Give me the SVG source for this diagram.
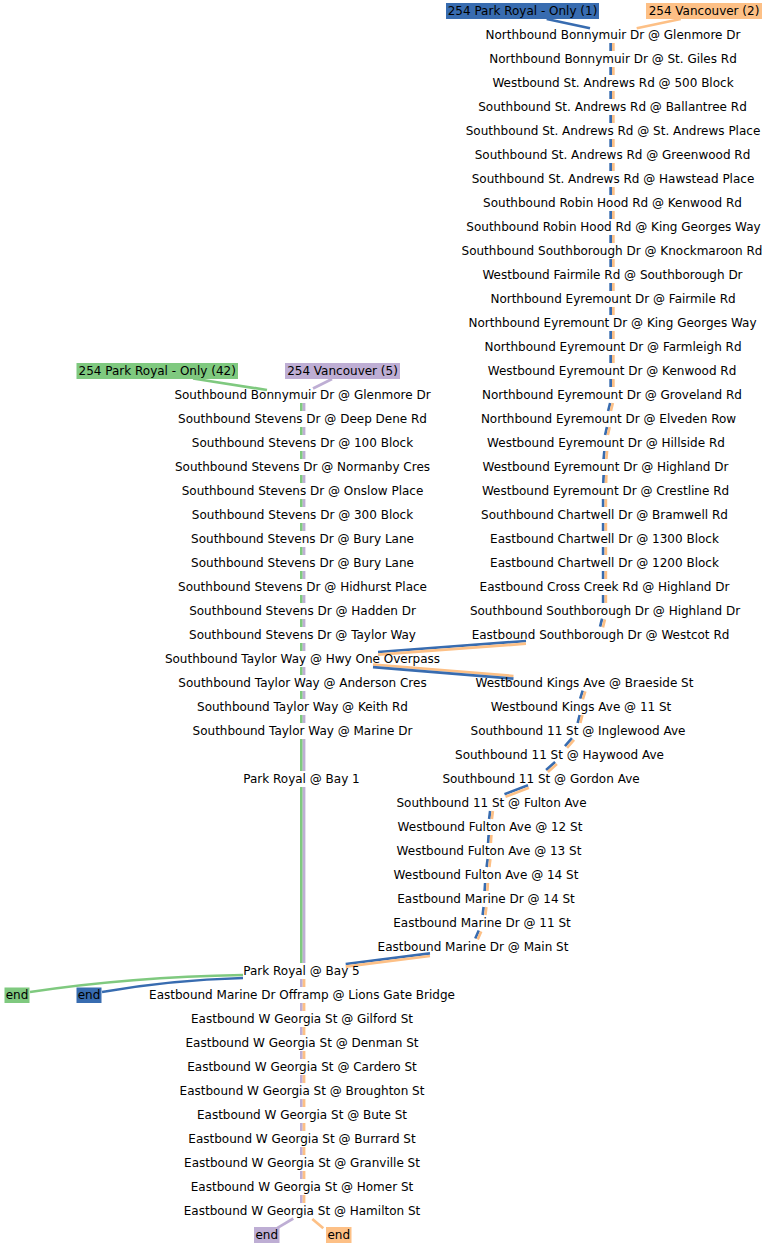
<svg xmlns="http://www.w3.org/2000/svg" width="773" height="1248" viewBox="0 0 773 1248">
<style>
text{font-family:"DejaVu Sans","Liberation Sans",sans-serif;font-size:12px;text-anchor:middle;fill:#000}
.e line,.e path{fill:none;stroke-width:2.7;stroke-linecap:butt}
.b{stroke:#386cb0}.o{stroke:#fdc086}.g{stroke:#7fc97f}.p{stroke:#beaed4}
.fb{fill:#386cb0}.fo{fill:#fdc086}.fg{fill:#7fc97f}.fp{fill:#beaed4}
</style>
<rect width="773" height="1248" fill="#fff"/>
<g id="connectors" class="e">
<!-- right column: blue/orange -->
<path class="b" d="M610.65,43V51M610.65,67V75M610.65,91V99M610.65,115V123M610.65,139V147M610.65,163V171M610.65,187V195M610.65,211V219M610.65,235V243M610.65,259V267M610.65,283V291M610.65,307V315M610.65,331V339M610.65,355V363M610.65,379V387M610.15,403L608.15,411M606.95,427L605.15,435M604.35,451L603.65,459M603.65,475L603.35,483M603.15,499V507M603.15,523V531M603.15,547V555M603.15,571V579M603.15,595V603M602.1,618.6L600.1,626.6"/>
<path class="o" d="M613.35,43V51M613.35,67V75M613.35,91V99M613.35,115V123M613.35,139V147M613.35,163V171M613.35,187V195M613.35,211V219M613.35,235V243M613.35,259V267M613.35,283V291M613.35,307V315M613.35,331V339M613.35,355V363M613.35,379V387M612.85,403L610.85,411M609.65,427L607.85,435M607.05,451L606.35,459M606.35,475L606.05,483M605.85,499V507M605.85,523V531M605.85,547V555M605.85,571V579M605.85,595V603M604.9,619.4L602.9,627.4"/>
<!-- top labels -->
<line class="b" x1="546.7" y1="19" x2="590" y2="28.3"/>
<line class="o" x1="680.7" y1="19" x2="636.7" y2="28.3"/>
<!-- Westcot -> Hwy One -> Braeside -->
<line class="b" x1="526" y1="641" x2="378" y2="652"/>
<line class="o" x1="526" y1="643.7" x2="378" y2="654.7"/>
<line class="o" x1="373" y1="664.5" x2="513.5" y2="676"/>
<line class="b" x1="373" y1="667.2" x2="513.5" y2="678.7"/>
<!-- middle column -->
<path class="b" d="M582.7,690.6L580.2,698.6M579.7,715L577.7,723M571.98,738.11L564.98,746.11M555.1,762L546.1,770M528,785.2L504.5,794.2M490.15,811L489.15,819M488.65,835L488.15,843M487.65,859L486.65,867M485.15,883L484.65,891M483.65,907L482.65,915M478.8,930.5L475.3,938.5"/>
<path class="o" d="M585.3,691.4L582.8,699.4M582.35,715L580.35,723M574.02,739.89L567.02,747.89M556.9,764L547.9,772M529,787.8L505.5,796.8M492.85,811L491.85,819M491.35,835L490.85,843M490.35,859L489.35,867M487.85,883L487.35,891M486.35,907L485.35,915M481.2,931.5L477.7,939.5"/>
<!-- Main St -> Bay 5 -->
<line class="b" x1="430" y1="953.3" x2="345.7" y2="964"/>
<line class="o" x1="430" y1="956" x2="345.7" y2="966.7"/>
<!-- left column: green/purple -->
<line class="g" x1="193" y1="378.5" x2="267" y2="390"/>
<line class="p" x1="332" y1="379" x2="313" y2="388.5"/>
<path class="g" d="M301.35,403V411M301.35,427V435M301.35,451V459M301.35,475V483M301.35,499V507M301.35,523V531M301.35,547V555M301.35,571V579M301.35,595V603M301.35,619V627M301.35,643V651M301.35,667V675M301.35,691V699M301.35,715V723M301.35,739V771M301.35,787V963"/>
<path class="p" d="M304.05,403V411M304.05,427V435M304.05,451V459M304.05,475V483M304.05,499V507M304.05,523V531M304.05,547V555M304.05,571V579M304.05,595V603M304.05,619V627M304.05,643V651M304.05,667V675M304.05,691V699M304.05,715V723M304.05,739V771M304.05,787V963"/>
<!-- ends from Bay 5 -->
<path class="g" d="M243,975Q130,977 30,992"/>
<path class="b" d="M243,978Q170,980 102,992"/>
<!-- bottom column: purple/orange -->
<path class="p" d="M301.35,979V987M301.35,1003V1011M301.35,1027V1035M301.35,1051V1059M301.35,1075V1083M301.35,1099V1107M301.35,1123V1131M301.35,1147V1155M301.35,1171V1179M301.35,1195V1203"/>
<path class="o" d="M304.05,979V987M304.05,1003V1011M304.05,1027V1035M304.05,1051V1059M304.05,1075V1083M304.05,1099V1107M304.05,1123V1131M304.05,1147V1155M304.05,1171V1179M304.05,1195V1203"/>
<line class="p" x1="293.3" y1="1218.5" x2="276.7" y2="1228.3"/>
<line class="o" x1="312.3" y1="1219" x2="323.3" y2="1228.3"/>
</g>
<!-- route labels -->
<g id="label-pr1"><rect class="fb" x="446" y="3" width="153" height="16"/><text x="522.5" y="15">254 Park Royal - Only (1)</text></g>
<g id="label-van2"><rect class="fo" x="646" y="3" width="116" height="16"/><text x="704" y="15">254 Vancouver (2)</text></g>
<g id="label-pr42"><rect class="fg" x="76.5" y="363" width="161.5" height="16"/><text x="157.2" y="375">254 Park Royal - Only (42)</text></g>
<g id="label-van5"><rect class="fp" x="285" y="363" width="115" height="16"/><text x="342.5" y="375">254 Vancouver (5)</text></g>
<g id="end-g"><rect class="fg" x="4.5" y="987.5" width="25" height="15.5"/><text x="17" y="999">end</text></g>
<g id="end-b"><rect class="fb" x="76.5" y="987.5" width="25" height="15.5"/><text x="89" y="999">end</text></g>
<g id="end-p"><rect class="fp" x="254" y="1227" width="25.5" height="16"/><text x="266.7" y="1239">end</text></g>
<g id="end-o"><rect class="fo" x="326" y="1227" width="25.5" height="16"/><text x="338.7" y="1239">end</text></g>
<!-- right column stops -->
<g id="r01"><text x="613" y="39">Northbound Bonnymuir Dr @ Glenmore Dr</text></g>
<g id="r02"><text x="613" y="63">Northbound Bonnymuir Dr @ St. Giles Rd</text></g>
<g id="r03"><text x="613" y="87">Westbound St. Andrews Rd @ 500 Block</text></g>
<g id="r04"><text x="612.5" y="111">Southbound St. Andrews Rd @ Ballantree Rd</text></g>
<g id="r05"><text x="613" y="135">Southbound St. Andrews Rd @ St. Andrews Place</text></g>
<g id="r06"><text x="612.5" y="159">Southbound St. Andrews Rd @ Greenwood Rd</text></g>
<g id="r07"><text x="613" y="183">Southbound St. Andrews Rd @ Hawstead Place</text></g>
<g id="r08"><text x="612.5" y="207">Southbound Robin Hood Rd @ Kenwood Rd</text></g>
<g id="r09"><text x="613.5" y="231">Southbound Robin Hood Rd @ King Georges Way</text></g>
<g id="r10"><text x="612" y="255">Southbound Southborough Dr @ Knockmaroon Rd</text></g>
<g id="r11"><text x="612.5" y="279">Westbound Fairmile Rd @ Southborough Dr</text></g>
<g id="r12"><text x="613" y="303">Northbound Eyremount Dr @ Fairmile Rd</text></g>
<g id="r13"><text x="612.5" y="327">Northbound Eyremount Dr @ King Georges Way</text></g>
<g id="r14"><text x="613" y="351">Northbound Eyremount Dr @ Farmleigh Rd</text></g>
<g id="r15"><text x="612" y="375">Westbound Eyremount Dr @ Kenwood Rd</text></g>
<g id="r16"><text x="612" y="399">Northbound Eyremount Dr @ Groveland Rd</text></g>
<g id="r17"><text x="608.5" y="423">Northbound Eyremount Dr @ Elveden Row</text></g>
<g id="r18"><text x="606" y="447">Westbound Eyremount Dr @ Hillside Rd</text></g>
<g id="r19"><text x="605.5" y="471">Westbound Eyremount Dr @ Highland Dr</text></g>
<g id="r20"><text x="605.5" y="495">Westbound Eyremount Dr @ Crestline Rd</text></g>
<g id="r21"><text x="604.5" y="519">Southbound Chartwell Dr @ Bramwell Rd</text></g>
<g id="r22"><text x="604.5" y="543">Eastbound Chartwell Dr @ 1300 Block</text></g>
<g id="r23"><text x="604.5" y="567">Eastbound Chartwell Dr @ 1200 Block</text></g>
<g id="r24"><text x="604.5" y="591">Eastbound Cross Creek Rd @ Highland Dr</text></g>
<g id="r25"><text x="605" y="615">Southbound Southborough Dr @ Highland Dr</text></g>
<g id="r26"><text x="600.5" y="639">Eastbound Southborough Dr @ Westcot Rd</text></g>
<!-- left column stops -->
<g id="l01"><text x="302.5" y="399">Southbound Bonnymuir Dr @ Glenmore Dr</text></g>
<g id="l02"><text x="302.5" y="423">Southbound Stevens Dr @ Deep Dene Rd</text></g>
<g id="l03"><text x="302.5" y="447">Southbound Stevens Dr @ 100 Block</text></g>
<g id="l04"><text x="302.5" y="471">Southbound Stevens Dr @ Normanby Cres</text></g>
<g id="l05"><text x="302.5" y="495">Southbound Stevens Dr @ Onslow Place</text></g>
<g id="l06"><text x="302.5" y="519">Southbound Stevens Dr @ 300 Block</text></g>
<g id="l07"><text x="302.5" y="543">Southbound Stevens Dr @ Bury Lane</text></g>
<g id="l08"><text x="302.5" y="567">Southbound Stevens Dr @ Bury Lane</text></g>
<g id="l09"><text x="302.5" y="591">Southbound Stevens Dr @ Hidhurst Place</text></g>
<g id="l10"><text x="302.5" y="615">Southbound Stevens Dr @ Hadden Dr</text></g>
<g id="l11"><text x="302.5" y="639">Southbound Stevens Dr @ Taylor Way</text></g>
<g id="l12"><text x="302.5" y="663">Southbound Taylor Way @ Hwy One Overpass</text></g>
<g id="l13"><text x="302.5" y="687">Southbound Taylor Way @ Anderson Cres</text></g>
<g id="l14"><text x="302.5" y="711">Southbound Taylor Way @ Keith Rd</text></g>
<g id="l15"><text x="302.5" y="735">Southbound Taylor Way @ Marine Dr</text></g>
<g id="l16"><text x="301.5" y="783">Park Royal @ Bay 1</text></g>
<g id="l17"><text x="301.5" y="975">Park Royal @ Bay 5</text></g>
<g id="l18"><text x="302" y="999">Eastbound Marine Dr Offramp @ Lions Gate Bridge</text></g>
<g id="l19"><text x="302" y="1023">Eastbound W Georgia St @ Gilford St</text></g>
<g id="l20"><text x="302" y="1047">Eastbound W Georgia St @ Denman St</text></g>
<g id="l21"><text x="302" y="1071">Eastbound W Georgia St @ Cardero St</text></g>
<g id="l22"><text x="302" y="1095">Eastbound W Georgia St @ Broughton St</text></g>
<g id="l23"><text x="302" y="1119">Eastbound W Georgia St @ Bute St</text></g>
<g id="l24"><text x="302" y="1143">Eastbound W Georgia St @ Burrard St</text></g>
<g id="l25"><text x="302" y="1167">Eastbound W Georgia St @ Granville St</text></g>
<g id="l26"><text x="302" y="1191">Eastbound W Georgia St @ Homer St</text></g>
<g id="l27"><text x="302" y="1215">Eastbound W Georgia St @ Hamilton St</text></g>
<!-- middle column stops -->
<g id="m01"><text x="584.5" y="687">Westbound Kings Ave @ Braeside St</text></g>
<g id="m02"><text x="581" y="711">Westbound Kings Ave @ 11 St</text></g>
<g id="m03"><text x="578" y="735">Southbound 11 St @ Inglewood Ave</text></g>
<g id="m04"><text x="559.5" y="759">Southbound 11 St @ Haywood Ave</text></g>
<g id="m05"><text x="541" y="783">Southbound 11 St @ Gordon Ave</text></g>
<g id="m06"><text x="491.5" y="807">Southbound 11 St @ Fulton Ave</text></g>
<g id="m07"><text x="490" y="831">Westbound Fulton Ave @ 12 St</text></g>
<g id="m08"><text x="489" y="855">Westbound Fulton Ave @ 13 St</text></g>
<g id="m09"><text x="486" y="879">Westbound Fulton Ave @ 14 St</text></g>
<g id="m10"><text x="486" y="903">Eastbound Marine Dr @ 14 St</text></g>
<g id="m11"><text x="482" y="927">Eastbound Marine Dr @ 11 St</text></g>
<g id="m12"><text x="473" y="951">Eastbound Marine Dr @ Main St</text></g>
</svg>
